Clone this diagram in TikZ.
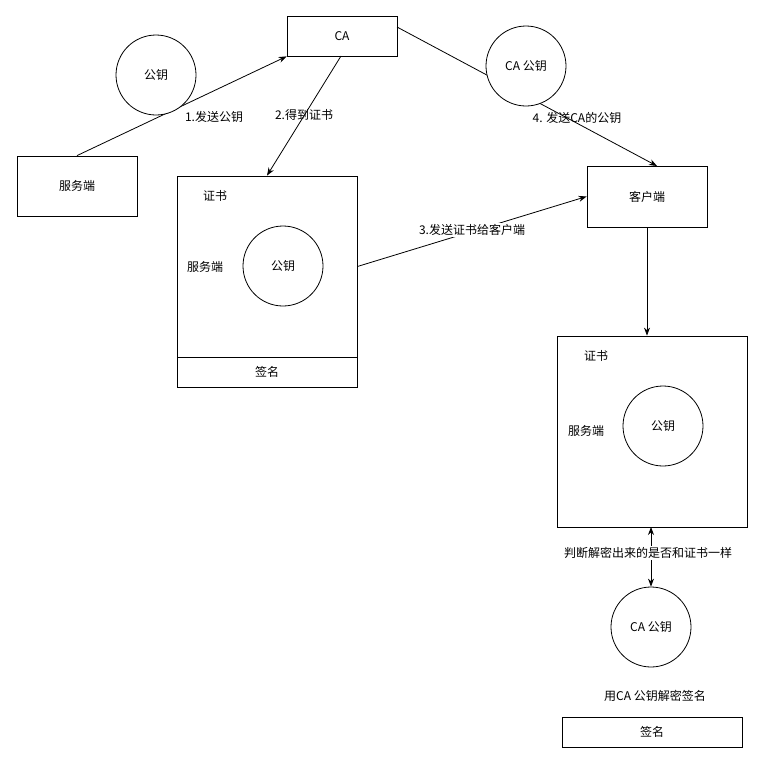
\documentclass[tikz,border=0pt]{standalone}
\usepackage{fontspec}
\setmainfont{Noto Sans CJK SC}
\usetikzlibrary{arrows.meta}
\tikzset{
  box/.style={draw, line width=0.8pt, fill=white, inner sep=0pt},
  circ/.style={draw, circle, line width=0.8pt, fill=white, inner sep=0pt, minimum size=80pt},
  txt/.style={inner sep=1pt},
  conn/.style={line width=0.8pt, -{Stealth[length=8pt,width=6pt]}},
  both/.style={line width=0.8pt, {Stealth[length=8pt,width=6pt]}-{Stealth[length=8pt,width=6pt]}}
}
\begin{document}
\begin{tikzpicture}[x=1pt,y=-1pt, every node/.style={font=\fontsize{12}{14}\selectfont}]
\useasboundingbox[fill=white] (0,0) rectangle (763,763);
% boxes
\node[box, minimum width=110pt, minimum height=40pt] (ca) at (342,36) {CA};
\node[box, minimum width=120pt, minimum height=60pt] (srv) at (77,186) {服务端};
\node[box, minimum width=180pt, minimum height=181pt] (cert1) at (267,266.5) {};
\node[box, minimum width=180pt, minimum height=30pt] (sig1) at (267,372) {签名};
\node[box, minimum width=120pt, minimum height=61pt] (client) at (647,196.5) {客户端};
\node[box, minimum width=190pt, minimum height=191pt] (cert2) at (652,431.5) {};
\node[box, minimum width=180pt, minimum height=30pt] (sig2) at (652,732) {签名};
% coordinates
\coordinate (caR) at (397,27);
\coordinate (clTop) at (657,166);
% connectors
\draw[conn] (srv.north) -- (ca.south west);
\draw[conn] (341,56) -- (cert1.north);
\draw[conn] (caR) -- (clTop);
\draw[conn] (cert1.east) -- (client.west);
\draw[conn] (client.south) -- (client.south |- cert2.north);
% circles
\node[circ] (pk0) at (156,75) {公钥};
\node[circ] (capk) at (526,66) {CA 公钥};
\node[circ] (pk1) at (283,266) {公钥};
\node[circ] (pk2) at (663,426) {公钥};
\node[circ] (capk2) at (651,627) {CA 公钥};
\draw[both] (651,527) -- (capk2.north);
% texts
\node[txt] (t1) at (215,196) {证书};
\node[txt] (t2) at (205,267) {服务端};
\node[txt] (t3) at (596,356) {证书};
\node[txt] (t4) at (586,431) {服务端};
% labels
\node[txt] (l1) at (214,117) {1.发送公钥};
\node[txt] (l2) at (304,115) {2.得到证书};
\node[txt, fill=white] (l3) at (472,230) {3.发送证书给客户端};
\node[txt] (l4) at (577,118) {4. 发送CA的公钥};
\node[txt, fill=white] (l5) at (648,553) {判断解密出来的是否和证书一样};
\node[txt] (l6) at (655,696) {用CA 公钥解密签名};
\end{tikzpicture}
\end{document}
